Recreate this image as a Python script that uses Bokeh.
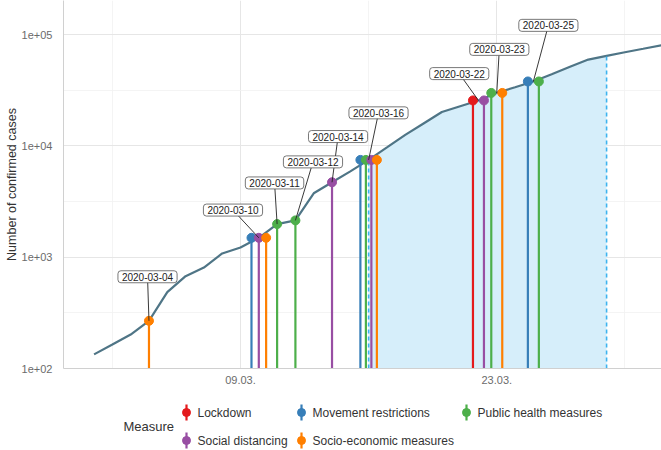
import pandas as pd
from bokeh.plotting import figure
from bokeh.models import ColumnDataSource, Range1d, FixedTicker, CustomJSTickFormatter, Label
from bokeh.layouts import column
from bokeh.embed import file_html
from bokeh.resources import INLINE
from bokeh.core.properties import value

# ---------------- data ----------------
dates = ["2020-03-01", "2020-03-02", "2020-03-03", "2020-03-04", "2020-03-05", "2020-03-06",
         "2020-03-07", "2020-03-08", "2020-03-09", "2020-03-10", "2020-03-11", "2020-03-12",
         "2020-03-13", "2020-03-14", "2020-03-15", "2020-03-16", "2020-03-17", "2020-03-18",
         "2020-03-19", "2020-03-20", "2020-03-21", "2020-03-22", "2020-03-23", "2020-03-24",
         "2020-03-25", "2020-03-26", "2020-03-27", "2020-03-28", "2020-03-29", "2020-03-30",
         "2020-03-31", "2020-04-01"]
cases = [134, 164, 202, 268, 486, 675, 807, 1080, 1222, 1493, 1983, 2140,
         3750, 4710, 5900, 7480, 9680, 12560, 15900, 20150, 22700, 25600,
         29900, 33600, 37900, 44000, 51300, 59600, 64400, 69400, 74500, 80100]

shade_start = "2020-03-16"
shade_end = "2020-03-29"

measure_dates = ["2020-03-04", "2020-03-10", "2020-03-10", "2020-03-10", "2020-03-11",
                 "2020-03-12", "2020-03-14", "2020-03-16", "2020-03-16", "2020-03-16",
                 "2020-03-16", "2020-03-22", "2020-03-22", "2020-03-23", "2020-03-23",
                 "2020-03-25", "2020-03-25"]
measure_types = ["Socio-economic measures", "Movement restrictions", "Social distancing",
                 "Socio-economic measures", "Public health measures", "Public health measures",
                 "Social distancing", "Movement restrictions", "Public health measures",
                 "Social distancing", "Socio-economic measures", "Lockdown", "Social distancing",
                 "Public health measures", "Socio-economic measures", "Movement restrictions",
                 "Public health measures"]

measure_names = ["Lockdown", "Movement restrictions", "Public health measures",
                 "Social distancing", "Socio-economic measures"]
measure_colors = ["#E41A1C", "#377EB8", "#4DAF4A", "#984EA3", "#FF7F00"]

label_dates = ["2020-03-04", "2020-03-10", "2020-03-11", "2020-03-12", "2020-03-14",
               "2020-03-16", "2020-03-22", "2020-03-23", "2020-03-25"]
# repelled label anchor positions (offset in days from the date, and y in cases)
label_dx_days = [-0.08, -1.41, -0.14, 0.96, 0.33, 0.54, -1.05, 0.14, 0.82]
label_y = [667, 2650, 4645, 7180, 12130, 19800, 44600, 73600, 121000]

x_ticks = ["2020-03-09", "2020-03-23"]
x_minor = ["2020-03-02", "2020-03-16", "2020-03-30"]
y_ticks = [1e2, 1e3, 1e4, 1e5]
y_minor = [10 ** 2.5, 10 ** 3.5, 10 ** 4.5]

# ---------------- helpers ----------------
DAY = 86400000.0


def ms(d):
    return pd.Timestamp(d).value / 1e6


case_of = dict(zip(dates, cases))
color_of = dict(zip(measure_names, measure_colors))
FONT = "Liberation Sans"

W = 661
LEFT = 63
MAIN_H = 391
LEG_H = 59

x0 = ms("2020-03-09") - 9.67 * DAY
x1 = ms("2020-03-09") + 23.0 * DAY

p = figure(width=W, height=MAIN_H, x_axis_type="datetime", y_axis_type="log",
           x_range=Range1d(x0, x1), y_range=Range1d(100, 10 ** 5.306),
           toolbar_location=None, output_backend="svg",
           min_border_left=LEFT, min_border_right=0, min_border_top=0, min_border_bottom=23)
p.outline_line_color = None
p.background_fill_color = "white"

# axes
p.xaxis.ticker = FixedTicker(ticks=[ms(d) for d in x_ticks], minor_ticks=[ms(d) for d in x_minor])
p.yaxis.ticker = FixedTicker(ticks=y_ticks, minor_ticks=y_minor)
p.xaxis.formatter = CustomJSTickFormatter(code="""
const d = new Date(tick);
return String(d.getUTCDate()).padStart(2,'0') + '.' + String(d.getUTCMonth()+1).padStart(2,'0') + '.';
""")
p.yaxis.formatter = CustomJSTickFormatter(code="""
return '1e+' + String(Math.round(Math.log10(tick))).padStart(2,'0');
""")
for ax in (p.xaxis, p.yaxis):
    ax.axis_line_color = "#d0d0d0"
    ax.axis_line_width = 1
    ax.major_tick_line_color = None
    ax.minor_tick_line_color = None
    ax.major_label_text_font = FONT
    ax.major_label_text_font_size = "11px"
    ax.major_label_text_color = "#6b6b6b"
p.xaxis.major_label_standoff = 1
p.yaxis.major_label_standoff = 5
p.yaxis.axis_label = "Number of confirmed cases"
p.yaxis.axis_label_text_font = FONT
p.yaxis.axis_label_text_font_size = "12.5px"
p.yaxis.axis_label_text_font_style = "normal"
p.yaxis.axis_label_text_color = "#333333"
p.yaxis.axis_label_standoff = 0

for g in (p.xgrid, p.ygrid):
    g.grid_line_color = "#e6e6e6"
    g.grid_line_width = 1
    g.minor_grid_line_color = "#f1f1f1"
    g.minor_grid_line_width = 0.8

# shaded period
shade_d = [d for d in dates if shade_start <= d <= shade_end]
p.varea(x=[ms(d) for d in shade_d], y1=[100] * len(shade_d),
        y2=[case_of[d] for d in shade_d], fill_color="#d6eefa", fill_alpha=1)

# case curve
p.line(x=[ms(d) for d in dates], y=cases, line_color="#4f7586", line_width=2.2)

# dashed period boundaries
p.segment(x0=[ms(shade_start), ms(shade_end)], y0=[100, 100],
          x1=[ms(shade_start), ms(shade_end)], y1=[case_of[shade_start], case_of[shade_end]],
          line_color="#3db4ef", line_width=1.6, line_dash="4 3")

# measures (dodged)
dodge_width = 1.2
counts = {d: measure_dates.count(d) for d in measure_dates}
seen = {}
mx, my, mc = [], [], []
for d, t in zip(measure_dates, measure_types):
    n = counts[d]
    i = seen.get(d, 0)
    seen[d] = i + 1
    off = (i - (n - 1) / 2) * dodge_width / n
    mx.append(ms(d) + off * DAY)
    my.append(case_of[d])
    mc.append(color_of[t])
msrc = ColumnDataSource(dict(x=mx, y=my, y0=[100] * len(mx), c=mc))
p.segment(x0="x", y0="y0", x1="x", y1="y", line_color="c", line_width=2.2, source=msrc)
p.scatter(x="x", y="y", size=9, fill_color="c", line_color="c", source=msrc)

# labels with leader lines
lx = [ms(d) + dx * DAY for d, dx in zip(label_dates, label_dx_days)]
p.segment(x0=[ms(d) for d in label_dates], y0=[case_of[d] for d in label_dates],
          x1=lx, y1=label_y, line_color="#222222", line_width=0.9)
for d, x, y in zip(label_dates, lx, label_y):
    p.add_layout(Label(x=x, y=y, text=d, text_font=FONT, text_font_size="10px",
                       text_color="#222222", text_align="center", text_baseline="middle",
                       background_fill_color="white", background_fill_alpha=1,
                       border_line_color="#555555", border_line_width=0.8,
                       padding=dict(left=4, right=4, top=2, bottom=2), border_radius=3))

# ---------------- legend panel (page x coordinates, y from top) ----------------
leg = figure(width=W, height=LEG_H, x_range=Range1d(LEFT, W), y_range=Range1d(LEG_H, 0),
             toolbar_location=None, output_backend="svg",
             x_axis_location=None, y_axis_location=None,
             min_border_left=LEFT, min_border_right=0, min_border_top=0, min_border_bottom=0)
leg.outline_line_color = None
leg.xgrid.visible = False
leg.ygrid.visible = False

col_x = [186, 301, 466]
row_y = [21, 49]
kx, ky = [], []
for i, name in enumerate(measure_names):
    kx.append(col_x[i % 3])
    ky.append(row_y[i // 3])
ksrc = ColumnDataSource(dict(x=kx, y=ky, ya=[v - 8 for v in ky], yb=[v + 8 for v in ky],
                             tx=[v + 11 for v in kx], c=measure_colors, t=measure_names))
leg.segment(x0="x", y0="ya", x1="x", y1="yb", line_color="c", line_width=2.2, source=ksrc)
leg.scatter(x="x", y="y", size=8, fill_color="c", line_color="c", source=ksrc)
leg.text(x="tx", y="y", text="t", text_font=value(FONT), text_font_size="12px",
         text_color="#333333", text_baseline="middle", text_align="left", source=ksrc)
leg.text(x=[123], y=[35], text=["Measure"], text_font=value(FONT), text_font_size="13px",
         text_color="#333333", text_baseline="middle", text_align="left")

layout = column(p, leg, spacing=0)
open("out.html", "w").write(file_html(layout, INLINE))
